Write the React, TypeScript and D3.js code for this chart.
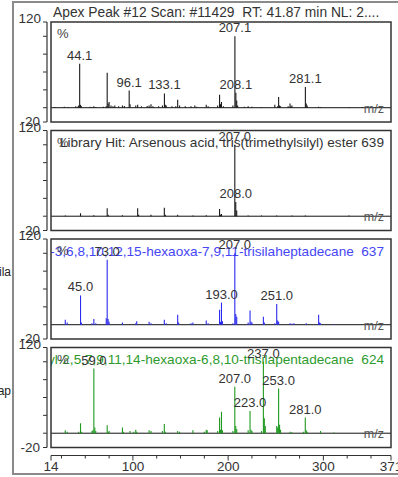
import React from "react";
import * as d3 from "d3";

// m/z axis and relative abundance axis
const mzDomain: [number, number] = [14, 371];
const abundanceDomain: [number, number] = [-20, 120];
const abundanceTicks = [120, 100, 75, 50, 25, 0, -20];
const mzTicks = [14, 25, 50, 75, 100, 125, 150, 175, 200, 225, 250, 275, 300, 325, 350, 371];
const mzTickLabels = [14, 100, 200, 300, 371];

// Measured scan: [m/z, relative abundance %]
const scanPeaks: [number, number][] = [
  [18, 1], [28, 1.5], [32, 1], [40, 2], [42, 1.5], [43, 3], [44.1, 61.6], [45, 4], [46, 2],
  [55, 1.5], [57, 1], [59, 2], [61, 1], [69, 1.5], [72, 2], [73, 49], [74, 6], [75, 8],
  [77, 3], [79, 2], [81, 3], [85, 2], [89, 3], [91, 2.5], [96.1, 24], [97, 5], [103, 3],
  [105, 4], [109, 2], [115, 2.5], [117, 3], [119, 5], [121, 2], [127, 2], [131, 3],
  [133.1, 20], [134, 4], [135, 3], [141, 2], [145, 2], [147, 11], [149, 3], [155, 2],
  [161, 2], [165, 3], [167, 1.5], [177, 4], [179, 2], [189, 3], [191, 18], [192, 5],
  [193, 8], [195, 2], [205, 3], [207.1, 100], [208.1, 21], [209, 10], [210, 3], [217, 1.5],
  [221, 2], [225, 1.5], [235, 1], [249, 4], [252, 2], [253, 15], [254, 3], [255, 2],
  [263, 2], [265, 6], [266, 2], [267, 3], [281.1, 29], [282, 6], [283, 3], [295, 1.5],
  [297, 1], [327, 1], [341, 1], [355, 1],
];
const scanLabels = [44.1, 96.1, 133.1, 207.1, 208.1, 281.1];

// Library hit 1
const arsenousPeaks: [number, number][] = [
  [29, 1], [45, 4], [59, 1.5], [73, 11], [74, 2], [89, 1.5], [105, 11], [106, 2], [119, 2],
  [133, 12], [134, 2], [147, 2], [163, 1], [177, 1.5], [191, 10], [192, 2], [193, 3],
  [207, 100], [208, 20], [209, 8], [221, 1], [235, 1], [251, 1], [267, 1], [281, 1], [327, 1],
];
const arsenousLabels = [207.0, 208.0];

// Library hit 2
const heptadecanePeaks: [number, number][] = [
  [29, 7], [31, 3], [45, 41], [46, 3], [57, 2], [59, 8], [61, 2], [72, 9], [73, 91], [74, 8],
  [75, 4], [89, 3], [103, 2], [104, 5], [117, 4], [119, 2], [133, 7], [135, 2], [147, 14],
  [148, 3], [161, 2], [163, 3], [177, 6], [179, 2], [191, 21], [192, 4], [193, 31], [194, 5],
  [205, 2], [207, 100], [208, 15], [209, 11], [221, 3], [223, 20], [224, 4], [225, 3],
  [237, 11], [238, 3], [249, 2], [251, 29], [252, 6], [253, 4], [265, 2], [267, 1.5],
  [269, 2], [282, 2], [295, 14], [296, 3], [297, 2], [311, 1],
];
const heptadecaneLabels = [45.0, 73.0, 193.0, 207.0, 251.0];

// Library hit 3
const pentadecanePeaks: [number, number][] = [
  [29, 4], [31, 2], [43, 2], [45, 14], [46, 2], [57, 3], [58, 4], [59, 90.6], [60, 8],
  [61, 3], [73, 11], [74, 2], [75, 3], [89, 8], [90, 2], [97, 3], [101, 2], [103, 5],
  [104, 2], [117, 4], [119, 3], [131, 3], [133, 13], [134, 2], [147, 3], [149, 2], [163, 4],
  [175, 2], [177, 5], [178, 4], [189, 3], [191, 22], [192, 5], [193, 30], [194, 4], [205, 3],
  [207, 65], [208, 10], [209, 6], [221, 4], [223, 31], [224, 5], [225, 3], [235, 3],
  [237, 100], [238, 21], [239, 10], [251, 10], [252, 8], [253, 62.6], [254, 12], [255, 5],
  [265, 2], [267, 1.5], [279, 2], [281, 22], [282, 4], [283, 2], [297, 3], [311, 1],
];
const pentadecaneLabels = [59.0, 207.0, 223.0, 237.0, 253.0, 281.0];

const scanHeader = "Apex Peak #12 Scan: #11429  RT: 41.87 min NL: 2....";
const panelTitles = [
  "",
  "Library Hit: Arsenous acid, tris(trimethylsilyl) ester 639",
  "7,7,9,9,11,11-Hexamethyl-3,6,8,10,12,15-hexaoxa-7,9,11-trisilaheptadecane  637",
  "6,6,8,8,10,10-Hexamethyl-2,5,7,9,11,14-hexaoxa-6,8,10-trisilapentadecane  624",
];
const sideLabels = ["", "", "ila", "ap"];

const FONT = "'Liberation Sans', Arial, Helvetica, sans-serif";

type Panel = {
  peaks: [number, number][];
  labels: number[];
  color: string;
  titleColor: string;
  title: string;
  side: string;
  sideDy: number;
};

const panels: Panel[] = [
  { peaks: scanPeaks, labels: scanLabels, color: "#1a1a1a", titleColor: "#333", title: panelTitles[0], side: sideLabels[0], sideDy: 0 },
  { peaks: arsenousPeaks, labels: arsenousLabels, color: "#1a1a1a", titleColor: "#333", title: panelTitles[1], side: sideLabels[1], sideDy: 0 },
  { peaks: heptadecanePeaks, labels: heptadecaneLabels, color: "#2b2bf0", titleColor: "#4646f5", title: panelTitles[2], side: sideLabels[2], sideDy: 37 },
  { peaks: pentadecanePeaks, labels: pentadecaneLabels, color: "#1f9a1f", titleColor: "#2e9b2e", title: panelTitles[3], side: sideLabels[3], sideDy: 47 },
];

export default function App() {
  const W = 398;
  const H = 477;
  const plotLeft = 51;
  const plotRight = 391;
  const axisX = 47;
  const firstTop = 22;
  const panelGap = 108.5;
  const panelH = 100;
  const xAxisY = 455.5;

  const x = d3.scaleLinear().domain(mzDomain).range([plotLeft, plotRight]);

  return (
    <svg
      width={W}
      height={H}
      style={{ position: "absolute", left: 0, top: 0, background: "#fff", whiteSpace: "pre" }}
      fontFamily={FONT}
    >
      {/* outer frame */}
      <rect x={13} y={2} width={W} height={472} fill="none" stroke="#8a8a8a" strokeWidth={2} />

      {/* scan header */}
      <text x={53} y={17} fontSize={13.8} fill="#333" style={{ whiteSpace: "pre" }}>{scanHeader}</text>

      {panels.map((p, i) => {
        const top = firstTop + i * panelGap;
        const y = d3.scaleLinear().domain(abundanceDomain).range([top + panelH, top]);
        const y0 = y(0);
        const clipId = `panel-clip-${i}`;
        return (
          <g key={i}>
            <defs>
              <clipPath id={clipId}>
                <rect x={plotLeft} y={top} width={plotRight - plotLeft} height={panelH} />
              </clipPath>
            </defs>
            {/* side label fragment */}
            {p.side && (
              <text x={11} y={top + p.sideDy} fontSize={12} fill="#222" textAnchor="end">{p.side}</text>
            )}
            {/* y axis */}
            <line x1={axisX} x2={axisX} y1={y(120)} y2={y(-20)} stroke="#333" strokeWidth={1.2} />
            {abundanceTicks.map((t) => (
              <line key={t} x1={axisX - 4} x2={axisX} y1={y(t)} y2={y(t)} stroke="#333" strokeWidth={1} />
            ))}
            <text x={41} y={y(120) + 1} fontSize={13.5} fill="#333" textAnchor="end">120</text>
            <text x={40} y={y(-20) + 4} fontSize={13.5} fill="#333" textAnchor="end">-20</text>

            <g clipPath={`url(#${clipId})`}>
              {/* title inside panel */}
              {p.title && (
                <text x={384} y={top + 16.5} fontSize={13.6} fill={p.titleColor} textAnchor="end" style={{ whiteSpace: "pre" }}>
                  {p.title}
                </text>
              )}
              <text x={57} y={top + 16} fontSize={13} fill="#444">%</text>
              {/* baseline */}
              <line x1={plotLeft} x2={plotRight} y1={y0} y2={y0} stroke="#111" strokeWidth={1} />
              {/* stick spectrum */}
              {p.peaks.map(([mz, v], k) => (
                <line
                  key={k}
                  x1={x(mz)}
                  x2={x(mz)}
                  y1={y0}
                  y2={y(v)}
                  stroke={p.color}
                  strokeWidth={1.1}
                />
              ))}
              {/* peak labels */}
              {p.labels.map((mz) => {
                const pk = p.peaks.find((d) => d[0] === mz);
                const v = pk ? pk[1] : 0;
                return (
                  <text key={mz} x={x(mz)} y={y(v) - 4} fontSize={13} fill="#333" textAnchor="middle">
                    {mz.toFixed(1)}
                  </text>
                );
              })}
              <text x={384} y={y0 + 5} fontSize={12.5} fill="#555" textAnchor="end">m/z</text>
            </g>
            {/* panel frame */}
            <rect
              x={plotLeft}
              y={top}
              width={plotRight - plotLeft}
              height={panelH}
              fill="none"
              stroke="#333"
              strokeWidth={1.5}
            />
          </g>
        );
      })}

      {/* m/z axis */}
      <line x1={plotLeft} x2={plotRight} y1={xAxisY} y2={xAxisY} stroke="#333" strokeWidth={1.2} />
      {mzTicks.map((t) => (
        <line key={t} x1={x(t)} x2={x(t)} y1={xAxisY} y2={xAxisY + (mzTickLabels.includes(t) ? 5 : 3)} stroke="#333" strokeWidth={1} />
      ))}
      {mzTickLabels.map((t) => (
        <text key={t} x={x(t)} y={xAxisY + 15} fontSize={13.5} fill="#333" textAnchor="middle">{t}</text>
      ))}
    </svg>
  );
}
